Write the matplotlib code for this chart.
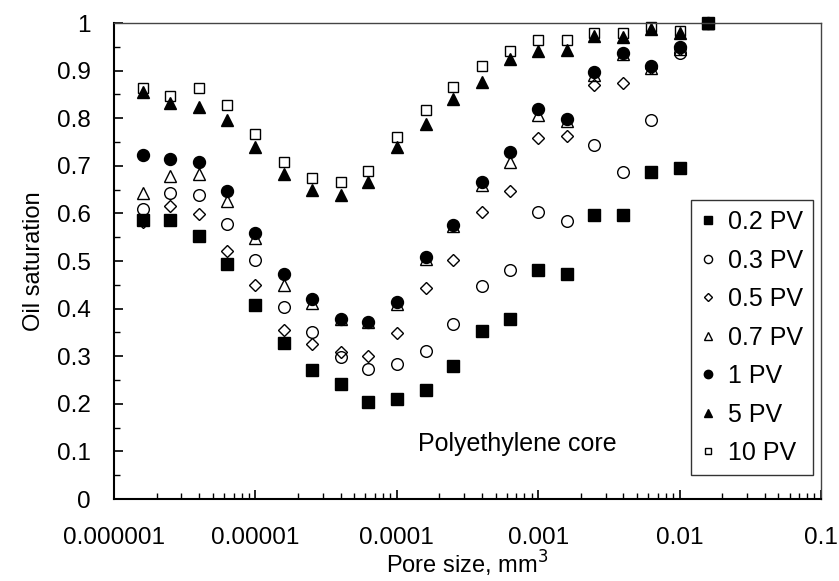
import matplotlib
matplotlib.use("Agg")
import matplotlib.pyplot as plt
import matplotlib.transforms as mtransforms
from matplotlib.ticker import FixedLocator, FixedFormatter, LogLocator, NullFormatter

plt.rcParams['font.family'] = ['Liberation Sans', 'DejaVu Sans']

# pore size, mm^3
pore_size = [1.6e-6, 2.5e-6, 4e-6, 6.3e-6, 1e-5, 1.6e-5, 2.5e-5, 4e-5, 6.3e-5,
             1e-4, 1.6e-4, 2.5e-4, 4e-4, 6.3e-4, 1e-3, 1.6e-3, 2.5e-3, 4e-3,
             6.3e-3, 1e-2, 1.6e-2]

# oil saturation per injected volume
pv02 = [0.586, 0.586, 0.553, 0.493, 0.408, 0.327, 0.272, 0.242, 0.204, 0.210, 0.229,
        0.279, 0.353, 0.378, 0.481, 0.473, 0.597, 0.597, 0.686, 0.696, 1.0]
pv03 = [0.609, 0.643, 0.639, 0.578, 0.502, 0.404, 0.351, 0.298, 0.273, 0.284, 0.311,
        0.368, 0.447, 0.481, 0.602, 0.584, 0.744, 0.686, 0.797, 0.936, 1.0]
pv05 = [0.582, 0.616, 0.598, 0.522, 0.450, 0.355, 0.326, 0.309, 0.300, 0.349, 0.443,
        0.502, 0.602, 0.647, 0.759, 0.763, 0.870, 0.875, 0.905, 0.945, 1.0]
pv07 = [0.643, 0.679, 0.683, 0.626, 0.548, 0.450, 0.412, 0.378, 0.372, 0.410, 0.505,
        0.573, 0.660, 0.708, 0.807, 0.795, 0.890, 0.935, 0.905, 0.945, 1.0]
pv1 = [0.723, 0.714, 0.707, 0.648, 0.559, 0.473, 0.420, 0.378, 0.372, 0.414, 0.508,
       0.576, 0.667, 0.728, 0.819, 0.798, 0.898, 0.936, 0.909, 0.949, 1.0]
pv5 = [0.855, 0.832, 0.823, 0.797, 0.740, 0.683, 0.650, 0.639, 0.666, 0.740, 0.787,
       0.840, 0.877, 0.924, 0.941, 0.943, 0.972, 0.971, 0.987, 0.978, 1.0]
pv10 = [0.863, 0.847, 0.863, 0.827, 0.766, 0.707, 0.675, 0.666, 0.689, 0.760, 0.817,
        0.865, 0.910, 0.942, 0.965, 0.965, 0.978, 0.978, 0.992, 0.983, 1.0]

labels = ["0.2 PV", "0.3 PV", "0.5 PV", "0.7 PV", "1 PV", "5 PV", "10 PV"]
xtick_vals = [1e-6, 1e-5, 1e-4, 1e-3, 1e-2, 1e-1]
xtick_labels = ["0.000001", "0.00001", "0.0001", "0.001", "0.01", "0.1"]
ytick_vals = [0, 0.1, 0.2, 0.3, 0.4, 0.5, 0.6, 0.7, 0.8, 0.9, 1.0]
ytick_labels = ["0", "0.1", "0.2", "0.3", "0.4", "0.5", "0.6", "0.7", "0.8", "0.9", "1"]

fig = plt.figure(figsize=(8.39, 5.81), dpi=100)
ax = fig.add_axes([0.1359, 0.1411, 0.8426, 0.8193])

series = [pv02, pv03, pv05, pv07, pv1, pv5, pv10]
# marker, size, face
styles = [('s', 8.4, 'black'), ('o', 8.4, 'none'), ('D', 6.0, 'none'),
          ('^', 8.8, 'none'), ('o', 8.6, 'black'), ('^', 8.8, 'black'),
          ('s', 6.8, 'none')]

for ys, lab, (m, ms, fc) in zip(series, labels, styles):
    ax.plot(pore_size, ys, linestyle='none', marker=m, markersize=ms,
            markerfacecolor=fc, markeredgecolor='black', markeredgewidth=1.0,
            label=lab, clip_on=False)

ax.set_xscale('log')
ax.set_xlim(1e-6, 0.1)
ax.set_ylim(0, 1)

ax.xaxis.set_major_locator(FixedLocator(xtick_vals))
ax.xaxis.set_major_formatter(FixedFormatter(xtick_labels))
ax.xaxis.set_minor_locator(LogLocator(base=10, subs=range(2, 10)))
ax.xaxis.set_minor_formatter(NullFormatter())
ax.yaxis.set_major_locator(FixedLocator(ytick_vals))
ax.yaxis.set_major_formatter(FixedFormatter(ytick_labels))
ax.yaxis.set_minor_locator(FixedLocator([0.05 + 0.1 * i for i in range(10)]))

ax.tick_params(axis='both', which='major', direction='in', length=6.5, width=1.2,
               labelsize=17.5, color='black')
ax.tick_params(axis='both', which='minor', direction='in', length=4.3, width=1.0)
ax.tick_params(axis='x', which='major', pad=20)
ax.tick_params(axis='y', which='major', pad=17)
ax.tick_params(top=False, right=False, which='both')

for side in ['left', 'bottom']:
    ax.spines[side].set_linewidth(1.5)
    ax.spines[side].set_color('black')
for side in ['top', 'right']:
    ax.spines[side].set_linewidth(1.0)
    ax.spines[side].set_color('#444444')

ax.set_xlabel("Pore size, mm$^3$", fontsize=17, labelpad=0)
ax.set_ylabel("Oil saturation", fontsize=17, labelpad=8)

# label in the lower middle of the plot
trans = mtransforms.blended_transform_factory(ax.transAxes, ax.transData)
ax.text(0.57, 0.115, "Polyethylene core", transform=trans,
        fontsize=18, ha='center', va='center')

leg = ax.legend(loc='upper right', bbox_to_anchor=(0.989, 0.628), fontsize=18,
                markerscale=0.7, frameon=True, fancybox=False, handlelength=0.6,
                handletextpad=0.5, labelspacing=0.58, borderpad=0.4,
                borderaxespad=0)
leg.get_frame().set_edgecolor('black')
leg.get_frame().set_linewidth(1.0)

fig.savefig("out.png", dpi=100)
